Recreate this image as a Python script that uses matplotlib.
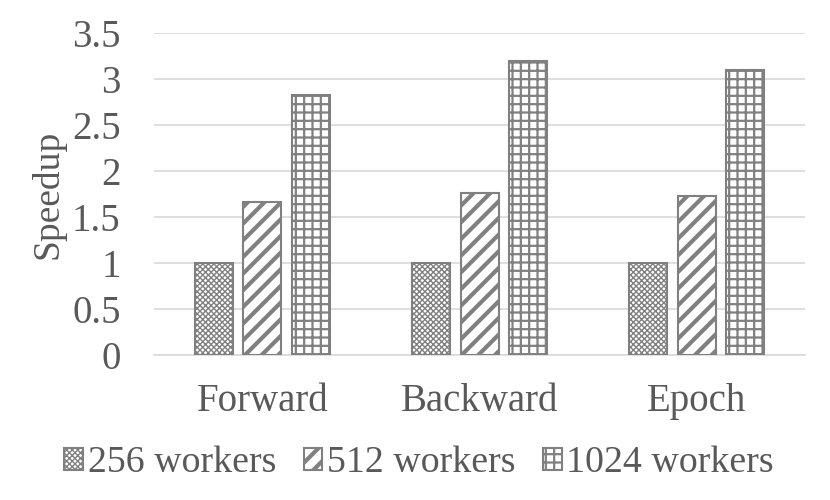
import numpy as np
import matplotlib.pyplot as plt
import matplotlib as mpl

categories = ['Forward', 'Backward', 'Epoch']
series_names = ['256 workers', '512 workers', '1024 workers']
speedup_256 = [1.0, 1.0, 1.0]
speedup_512 = [1.66, 1.76, 1.73]
speedup_1024 = [2.83, 3.2, 3.1]

plt.rcParams['font.family'] = ['Liberation Serif', 'DejaVu Serif']
text_color = '#595959'
bar_color = '#808080'
fs = 28

fig = plt.figure(figsize=(8.3, 5), dpi=100)
ax = fig.add_axes([0.1855, 0.29, 0.7845, 0.644])

x = np.arange(len(categories))
width = 0.175
step = 0.224
hatches = ['xxxxxx', '//', '++']
hatch_lw = [1.0, 3.0, 1.6]
all_vals = [speedup_256, speedup_512, speedup_1024]

for i, (vals, name) in enumerate(zip(all_vals, series_names)):
    with mpl.rc_context({'hatch.linewidth': hatch_lw[i], 'hatch.color': bar_color}):
        bars = ax.bar(x + (i - 1) * step, vals, width, color='white',
                      edgecolor=bar_color, hatch=hatches[i], linewidth=1.5,
                      label=name, zorder=3)
        for b in bars:
            if hasattr(b, 'set_hatch_linewidth'):
                b.set_hatch_linewidth(hatch_lw[i])

ax.set_xlim(-0.5, 2.5)
ax.set_ylim(0, 3.5)
ax.set_yticks(np.arange(0, 3.51, 0.5))
ax.set_yticklabels(['0', '0.5', '1', '1.5', '2', '2.5', '3', '3.5'])
ax.set_xticks(x)
ax.set_xticklabels(categories)
ax.yaxis.grid(True, color='#d9d9d9', linewidth=1.2, zorder=0)
for s in ['top', 'right', 'left']:
    ax.spines[s].set_visible(False)
ax.spines['bottom'].set_color('#d9d9d9')
ax.spines['bottom'].set_linewidth(1.2)
ax.tick_params(axis='both', length=0, labelsize=fs, labelcolor=text_color)
ax.tick_params(axis='x', pad=20)
ax.tick_params(axis='y', pad=24)
ax.set_ylabel('Speedup', fontsize=27, color=text_color, labelpad=5)

leg = fig.legend(loc='center', bbox_to_anchor=(0.505, 0.074), ncol=3, frameon=False,
                 fontsize=27.3, labelcolor=text_color, handlelength=0.5, handleheight=0.5,
                 handletextpad=0.12, columnspacing=0.72)
for h, lw in zip(leg.legend_handles, hatch_lw):
    if hasattr(h, 'set_hatch_linewidth'):
        h.set_hatch_linewidth(lw)

fig.savefig('out.png', dpi=100)
